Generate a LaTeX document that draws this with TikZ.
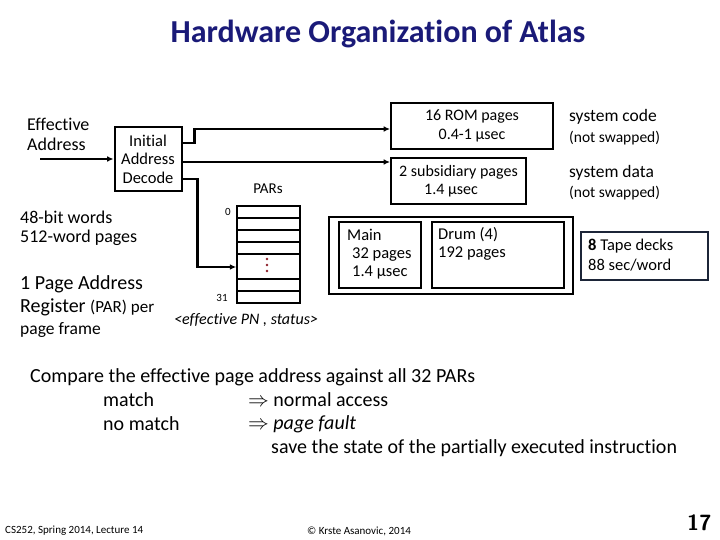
\documentclass[tikz,border=0pt]{standalone}
\usepackage{fontspec}
\setmainfont{Carlito}[Ligatures=NoCommon]
\usepackage{tikz}
\usetikzlibrary{arrows.meta}
\usetikzlibrary{positioning,arrows.meta}

\definecolor{titleblue}{RGB}{26,26,120}
\definecolor{tapeblue}{RGB}{28,37,56}
\definecolor{dotred}{RGB}{140,30,40}

\newcommand{\fs}[1]{\fontsize{#1}{#1}\selectfont}

\begin{document}
\begin{tikzpicture}[
      x=1pt, y=-1pt,
      box/.style={draw, line width=2pt, inner sep=0pt},
      txt/.style={align=left, inner sep=0pt, anchor=west},
      ctr/.style={align=center, inner sep=0pt},
      wire/.style={line width=2.8pt},
      arrow/.style={wire, -{Latex[length=2.2mm, width=2mm]}}
    ]
    \useasboundingbox (0,0) rectangle (720,540);

    % title
    \node[ctr, font=\fs{32}\bfseries, text=titleblue] (title) at (378,34) {Hardware Organization of Atlas};

    % left column
    \node[txt, font=\fs{18}] (ea) at (27,124) {Effective};
    \node[txt, font=\fs{18}] (ea2) at (27,144) {Address};
    \coordinate (eastart) at (40,159);
    \node[box, minimum width=67pt, minimum height=64pt, align=center, font=\fs{16.5}] (iad) at (148,159)
      {Initial\\[2pt]Address\\[2pt]Decode};
    \draw[arrow] (eastart) -- (iad.west);

    \node[txt, font=\fs{18}] (words) at (20,217) {48-bit words};
    \node[txt, font=\fs{18}] (pages) at (20,238) {512-word pages};
    \node[txt, font=\fs{20}] (pa1) at (20,284) {1 Page Address};
    \node[txt, font=\fs{20}] (pa2) at (20,307) {Register {\fs{17}(PAR) per}};
    \node[txt, font=\fs{17.5}] (pa3) at (20,330) {page frame};

    % ROM and subsidiary store
    \node[box, minimum width=162pt, minimum height=46pt, align=center, font=\fs{16}] (rom) at (472,126)
      {16 ROM pages\\[3pt]0.4-1 µsec};
    \node[box, minimum width=135pt, minimum height=46pt] (sub) at (458.5,181) {};
    \node[txt, font=\fs{16}] (sub1) at (399,172) {2 subsidiary pages};
    \node[txt, font=\fs{16}] (sub2) at (424,191) {1.4 µsec};

    \node[txt, font=\fs{17.5}] (sc) at (569,117) {system code};
    \node[txt, font=\fs{15.5}] (ns1) at (569,138) {(not swapped)};
    \node[txt, font=\fs{17.5}] (sd) at (569,173) {system data};
    \node[txt, font=\fs{15.5}] (ns2) at (569,193) {(not swapped)};

    % PARs
    \node[ctr, font=\fs{15}] (parlbl) at (268,189) {PARs};
    \node[draw, line width=1.6pt, minimum width=63pt, minimum height=97pt, inner sep=0pt] (par) at (268.5,254.5) {};
    \foreach \y in {218,230,242,254,279,291}
      \draw[line width=1.6pt] (par.west |- 0,\y) -- (par.east |- 0,\y);
    \foreach \y in {259,265,271}
      \fill[dotred] (267,\y) circle (1.4pt);
    \node[ctr, font=\fs{11}] (p0) at (228,212) {0};
    \node[ctr, font=\fs{11}] (p31) at (222,298) {31};
    \node[ctr, font=\fs{16}\itshape] (pn) at (246,320) {<effective PN , status>};

    % main store and drum
    \node[box, minimum width=244pt, minimum height=77pt] (store) at (451,255.5) {};
    \node[box, minimum width=82pt, minimum height=66pt] (main) at (380,255) {};
    \node[box, minimum width=132pt, minimum height=66pt] (drum) at (498,255) {};
    \node[txt, font=\fs{16.5}] (m1) at (347,235) {Main};
    \node[txt, font=\fs{16.5}] (m2) at (352,255) {32 pages};
    \node[txt, font=\fs{16.5}] (m3) at (352,273) {1.4 µsec};
    \node[txt, font=\fs{16.5}] (d1) at (438,235) {Drum (4)};
    \node[txt, font=\fs{16.5}] (d2) at (438,254) {192 pages};

    % tape
    \node[box, draw=tapeblue, minimum width=127pt, minimum height=48pt] (tape) at (644.5,256) {};
    \node[txt, font=\fs{16.5}] (t1) at (588,246) {\textbf{8} Tape decks};
    \node[txt, font=\fs{16.5}] (t2) at (588,265) {88 sec/word};

    % decode outputs
    \draw[arrow] ([yshift=16pt]iad.east) -- ++(12,0) |- ([yshift=-3pt]rom.west);
    \draw[arrow] ([yshift=-3pt]iad.east) -- ([yshift=-3pt]iad.east -| sub.west);
    \draw[arrow] ([yshift=-20pt]iad.east) -- ++(15,0) |- ([yshift=-12.5pt]par.west);

    % comparison text
    \node[txt, font=\fs{20}] (cmp) at (30,377) {Compare the effective page address against all 32 PARs};
    \node[txt, font=\fs{20}] (mt) at (103,400) {match};
    \node[txt, font=\fs{20}] (nmt) at (103,424) {no match};
    \node[txt, font=\fs{20}] (acc) at (248,400) {$\Rightarrow$ normal access};
    \node[txt, font=\fs{20}] (flt) at (248,424) {$\Rightarrow$ \textit{page fault}};
    \node[txt, font=\fs{20}] (sv) at (271,448) {save the state of the partially executed instruction};

    % footer
    \node[txt, font=\fs{11}] (f1) at (5,531) {CS252, Spring 2014, Lecture 14};
    \node[txt, font=\fs{11}] (f2) at (307,531) {© Krste Asanovic, 2014};
    \node[txt, font=\fs{22}\bfseries\sffamily] (num) at (687,523) {17};
  \end{tikzpicture}
\end{document}
